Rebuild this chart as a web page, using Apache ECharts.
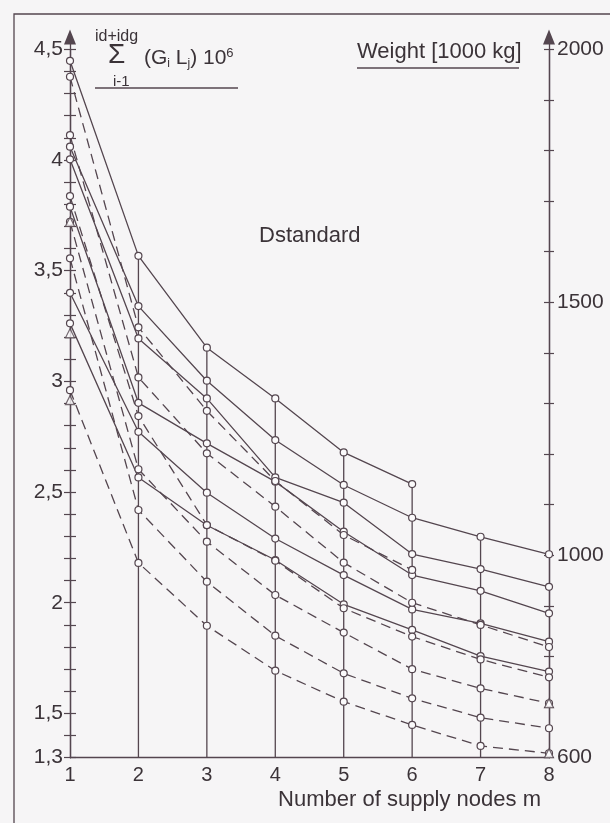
<!DOCTYPE html>
<html>
<head>
<meta charset="utf-8">
<script src="https://cdn.jsdelivr.net/npm/echarts@6/dist/echarts.min.js"></script>
<style>
  html, body { margin: 0; padding: 0; background: #f6f5f6; }
  #container { width: 610px; height: 823px; }
</style>
</head>
<body>
<div id="container"></div>
<script>
// number of supply nodes m
var nodes = [1, 2, 3, 4, 5, 6, 7, 8];

// solid curves, values on the left scale
var solidA = [4.448, 3.567, 3.152, 2.923, 2.679, 2.536];
var solidB = [4.06, 3.34, 3.003, 2.735, 2.532, 2.384, 2.298, 2.219];
var solidC = [4.003, 3.194, 2.923, 2.566, 2.452, 2.22, 2.152, 2.072];
var solidD = [3.789, 2.903, 2.72, 2.547, 2.321, 2.125, 2.054, 1.952];
var solidE = [3.40, 2.772, 2.497, 2.29, 2.125, 1.97, 1.907, 1.824];
var solidF = [3.262, 2.566, 2.35, 2.193, 1.993, 1.877, 1.759, 1.689];

// dashed curves
var dash0 = [4.376, 3.244, 2.867, 2.55, 2.306, 2.148];
var dash1 = [4.112, 3.018, 2.675, 2.434, 2.181, 2.0, 1.90, 1.80];
var dash2 = [3.837, 2.843, 2.351, 2.19, 1.975, 1.847, 1.744, 1.663];
var dash3 = [3.721, 2.603, 2.276, 2.035, 1.865, 1.70, 1.613, 1.546];
var dash4 = [3.556, 2.419, 2.095, 1.851, 1.681, 1.568, 1.481, 1.433];
var dash5 = [2.96, 2.18, 1.896, 1.693, 1.553, 1.448, 1.353, 1.32];

// points drawn with a triangle instead of a circle
var triangleMarks = [[1, 3.721], [1, 3.217], [1, 2.915], [8, 1.546], [8, 1.32]];

// tick labels
var leftLabels = [1.3, 1.5, 2, 2.5, 3, 3.5, 4, 4.5];
var rightLabels = [600, 1000, 1500, 2000];

var ink = '#54464f';
var textInk = '#3b3338';
var font = 'Liberation Sans';

var dom = document.getElementById('container');
var myChart = echarts.init(dom, null, { renderer: 'canvas' });

function pts(vals) {
  return vals.map(function (v, i) { return [nodes[i], v]; });
}

function curve(vals, dashed) {
  return {
    type: 'line',
    xAxisIndex: 0,
    yAxisIndex: 0,
    data: pts(vals),
    symbol: 'circle',
    symbolSize: 7,
    itemStyle: { color: '#fbfafb', borderColor: ink, borderWidth: 1.2 },
    lineStyle: { color: ink, width: 1.3, type: dashed ? [10, 6] : 'solid' },
    emphasis: { disabled: true },
    z: 3
  };
}

// drop lines: from the x axis up to the highest point of each column
var allCurves = [solidA, solidB, solidC, solidD, solidE, solidF, dash0, dash1, dash2, dash3, dash4, dash5];
var columnTops = [];
for (var i = 1; i < nodes.length - 1; i++) {
  var colTop = -Infinity;
  allCurves.forEach(function (c) { if (c[i] != null && c[i] > colTop) colTop = c[i]; });
  columnTops.push([nodes[i], colTop]);
}

function labelFor(list, sep) {
  return function (v) {
    for (var k = 0; k < list.length; k++) {
      if (Math.abs(v - list[k]) < 1e-6) return sep ? String(list[k]).replace('.', ',') : String(list[k]);
    }
    return '';
  };
}

var labelStyle = { color: textInk, fontFamily: font, fontSize: 21 };

var option = {
  backgroundColor: '#f6f5f6',
  animation: false,
  grid: [
    { left: 70, right: 61, top: 49.3, bottom: 65.3 },
    { left: 70, right: 61, top: 37, bottom: 65.3 }
  ],
  xAxis: [
    {
      gridIndex: 0, type: 'value', min: 1, max: 8, interval: 1,
      axisLine: { show: true, lineStyle: { color: ink, width: 1.3 } },
      axisTick: { show: false },
      splitLine: { show: false },
      axisLabel: { margin: 8, color: textInk, fontFamily: font, fontSize: 20 }
    },
    { gridIndex: 1, type: 'value', min: 0, max: 1, show: false }
  ],
  yAxis: [
    {
      gridIndex: 0, type: 'value', position: 'left', min: 1.3, max: 4.5, interval: 0.1,
      axisLine: { show: true, lineStyle: { color: ink, width: 1.3 } },
      axisTick: { show: true, length: 6, lineStyle: { color: ink, width: 1.2 } },
      splitLine: { show: false },
      axisLabel: Object.assign({ margin: 7, formatter: labelFor(leftLabels, true) }, labelStyle)
    },
    {
      gridIndex: 0, type: 'value', position: 'left', min: 1.3, max: 4.5, interval: 0.1,
      axisLine: { show: false },
      axisTick: { show: true, inside: true, length: 6, lineStyle: { color: ink, width: 1.2 } },
      splitLine: { show: false },
      axisLabel: { show: false }
    },
    {
      gridIndex: 0, type: 'value', position: 'right', min: 600, max: 2000, interval: 100,
      axisLine: { show: true, lineStyle: { color: ink, width: 1.3 } },
      axisTick: { show: true, length: 5, lineStyle: { color: ink, width: 1.2 } },
      splitLine: { show: false },
      axisLabel: Object.assign({ margin: 8, formatter: labelFor(rightLabels, false) }, labelStyle)
    },
    {
      gridIndex: 0, type: 'value', position: 'right', min: 600, max: 2000, interval: 100,
      axisLine: { show: false },
      axisTick: { show: true, inside: true, length: 5, lineStyle: { color: ink, width: 1.2 } },
      splitLine: { show: false },
      axisLabel: { show: false }
    },
    // taller copies of both axis lines, only to carry the arrow heads
    {
      gridIndex: 1, type: 'value', position: 'left', min: 0, max: 1,
      axisLine: { show: true, symbol: ['none', 'triangle'], symbolSize: [12, 15], lineStyle: { color: ink, width: 1.3 } },
      axisTick: { show: false }, axisLabel: { show: false }, splitLine: { show: false }
    },
    {
      gridIndex: 1, type: 'value', position: 'right', min: 0, max: 1,
      axisLine: { show: true, symbol: ['none', 'triangle'], symbolSize: [12, 15], lineStyle: { color: ink, width: 1.3 } },
      axisTick: { show: false }, axisLabel: { show: false }, splitLine: { show: false }
    }
  ],
  series: [
    {
      type: 'custom',
      xAxisIndex: 0,
      yAxisIndex: 0,
      data: columnTops,
      renderItem: function (params, api) {
        var p0 = api.coord([api.value(0), 1.3]);
        var p1 = api.coord([api.value(0), api.value(1)]);
        return {
          type: 'line',
          shape: { x1: p0[0], y1: p0[1], x2: p1[0], y2: p1[1] },
          style: { stroke: ink, lineWidth: 1.3 }
        };
      },
      z: 2
    },
    curve(solidA, false),
    curve(solidB, false),
    curve(solidC, false),
    curve(solidD, false),
    curve(solidE, false),
    curve(solidF, false),
    curve(dash0, true),
    curve(dash1, true),
    curve(dash2, true),
    curve(dash3, true),
    curve(dash4, true),
    curve(dash5, true),
    {
      type: 'scatter',
      xAxisIndex: 0,
      yAxisIndex: 0,
      data: triangleMarks,
      symbol: 'triangle',
      symbolSize: 9,
      itemStyle: { color: '#fbfafb', borderColor: ink, borderWidth: 1.2 },
      emphasis: { disabled: true },
      z: 4
    }
  ],
  graphic: [
    // frame round the figure
    { type: 'polyline', shape: { points: [[14, 823], [14, 14], [610, 14]] }, style: { stroke: ink, lineWidth: 1.3, fill: null } },
    { type: 'text', x: 95, y: 37, style: { text: 'id+idg', fill: textInk, font: '16px ' + font, verticalAlign: 'middle' } },
    { type: 'text', x: 108, y: 55, style: { text: '\u03A3', fill: textInk, font: '28px ' + font, verticalAlign: 'middle' } },
    {
      type: 'text', x: 144, y: 58,
      style: {
        text: '(G{sub|i} L{sub|j}) 10{sup|6}',
        fill: textInk, font: '21px ' + font, verticalAlign: 'middle',
        rich: {
          sub: { fontSize: 12, fontFamily: font, fill: textInk, verticalAlign: 'bottom', padding: [10, 0, 0, 0] },
          sup: { fontSize: 13, fontFamily: font, fill: textInk, verticalAlign: 'top', padding: [0, 0, 10, 0] }
        }
      }
    },
    { type: 'text', x: 113, y: 82, style: { text: 'i-1', fill: textInk, font: '15px ' + font, verticalAlign: 'middle' } },
    { type: 'line', shape: { x1: 95, y1: 88, x2: 238, y2: 88 }, style: { stroke: ink, lineWidth: 1.3 } },
    { type: 'text', x: 357, y: 52, style: { text: 'Weight [1000 kg]', fill: textInk, font: '22px ' + font, verticalAlign: 'middle' } },
    { type: 'line', shape: { x1: 357, y1: 68, x2: 519, y2: 68 }, style: { stroke: ink, lineWidth: 1.3 } },
    { type: 'text', x: 259, y: 236, style: { text: 'Dstandard', fill: textInk, font: '22px ' + font, verticalAlign: 'middle' } },
    { type: 'text', x: 541, y: 800, style: { text: 'Number of supply nodes m', fill: textInk, font: '22px ' + font, align: 'right', verticalAlign: 'middle' } }
  ]
};

if (option && typeof option === 'object') {
  myChart.setOption(option);
}

window.addEventListener('resize', myChart.resize);
</script>
</body>
</html>
